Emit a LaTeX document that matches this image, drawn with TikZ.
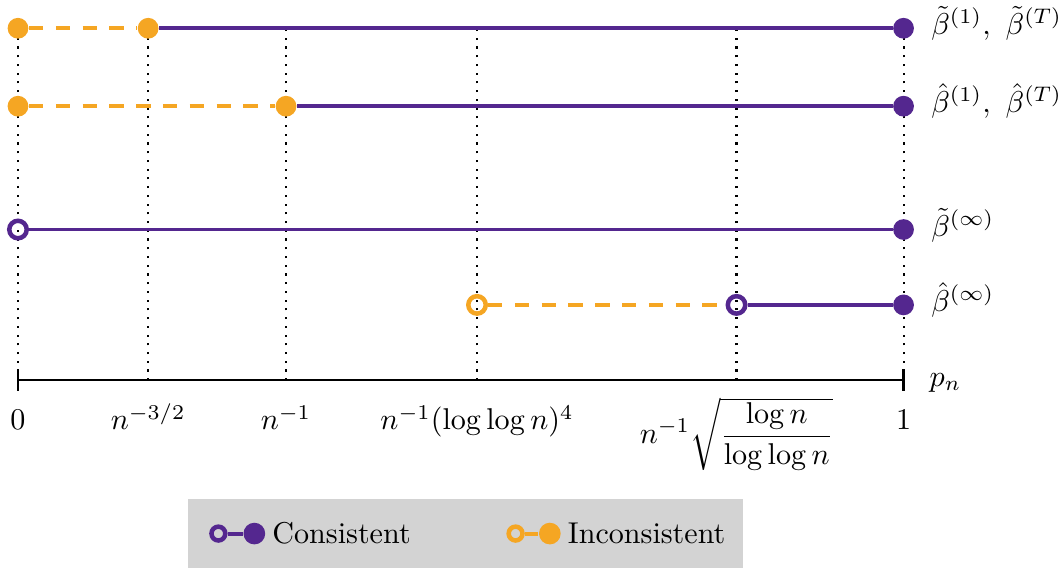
\documentclass[tikz,border=0pt]{standalone}
\usepackage{amsmath,amssymb}
\usepackage{xcolor}
\usepackage{tikz}
\usetikzlibrary{positioning}
\definecolor{cons}{RGB}{84,39,143}
\definecolor{incons}{RGB}{245,166,35}
\definecolor{legbg}{RGB}{211,211,211}

\begin{document}
\begin{tikzpicture}[
  fulldot/.style={circle,fill=#1,inner sep=0pt,minimum size=6.9pt},
  opendot/.style={circle,draw=#1,line width=1.5pt,inner sep=0pt,minimum size=5.8pt},
  consline/.style={cons,line width=1.3pt},
  inconsline/.style={incons,line width=1.3pt,dash pattern=on 4.8pt off 4.1pt},
  guide/.style={line width=0.7pt,dash pattern=on 0.7pt off 2.2pt},
  ticklab/.style={anchor=base},
  rowlab/.style={anchor=base west}]
  \useasboundingbox (-0.21,-2.20) rectangle (12.19,4.44);
  % axis positions
  \coordinate (top) at (0,4.11);
  \coordinate (t0) at (0,0);
  \coordinate (t1) at (1.52,0);
  \coordinate (t2) at (3.13,0);
  \coordinate (t3) at (5.36,0);
  \coordinate (t4) at (8.39,0);
  \coordinate (t5) at (10.34,0);
  \foreach \t in {t0,t1,t2,t3,t4,t5}
    \draw[guide] (\t) -- (\t |- top);
  \draw[line width=0.8pt] (t0) -- (t5);
  \draw[line width=0.8pt] ([yshift=3.7pt]t0) -- ([yshift=-3.7pt]t0);
  \draw[line width=0.8pt] ([yshift=3.7pt]t5) -- ([yshift=-3.7pt]t5);
  \node[ticklab] (l0) at (0,-0.57) {$0$};
  \node[ticklab] (l1) at (1.52,-0.58) {$n^{-3/2}$};
  \node[ticklab] (l2) at (3.13,-0.58) {$n^{-1}$};
  \node[ticklab] (l3) at (5.36,-0.58) {$n^{-1}(\log\log n)^4$};
  \node[ticklab] (l4) at (8.39,-0.74) {$n^{-1}\sqrt{\dfrac{\log n}{\log\log n}}$};
  \node[ticklab] (l5) at (10.34,-0.57) {$1$};
  \node[anchor=base west] (pn) at (10.52,-0.07) {$p_n$};
  % row 1
  \node[fulldot=incons] (a0) at (0,4.11) {};
  \node[fulldot=incons] (a1) at (1.52,4.11) {};
  \node[fulldot=cons] (a2) at (10.34,4.11) {};
  \draw[inconsline] (a0) -- (a1);
  \draw[consline] (a1) -- (a2);
  \node[rowlab] (la) at (10.54,4.035) {$\tilde{\beta}^{(1)},\ \tilde{\beta}^{(T)}$};
  % row 2
  \node[fulldot=incons] (b0) at (0,3.20) {};
  \node[fulldot=incons] (b1) at (3.13,3.20) {};
  \node[fulldot=cons] (b2) at (10.34,3.20) {};
  \draw[inconsline] (b0) -- (b1);
  \draw[consline] (b1) -- (b2);
  \node[rowlab] (lb) at (10.54,3.125) {$\hat{\beta}^{(1)},\ \hat{\beta}^{(T)}$};
  % row 3
  \node[opendot=cons] (c0) at (0,1.76) {};
  \node[fulldot=cons] (c1) at (10.34,1.76) {};
  \draw[consline] (c0) -- (c1);
  \node[rowlab] (lc) at (10.54,1.68) {$\tilde{\beta}^{(\infty)}$};
  % row 4
  \node[opendot=incons] (d0) at (5.36,0.88) {};
  \node[opendot=cons] (d1) at (8.39,0.88) {};
  \node[fulldot=cons] (d2) at (10.34,0.88) {};
  \draw[inconsline] (d0) -- (d1);
  \draw[consline] (d1) -- (d2);
  \node[rowlab] (ld) at (10.54,0.80) {$\hat{\beta}^{(\infty)}$};
  % legend
  \node[fill=legbg,minimum width=6.48cm,minimum height=0.81cm,inner sep=0pt] (leg) at (5.23,-1.79) {};
  \node[opendot=cons,minimum size=4.6pt] (k0) at (2.34,-1.79) {};
  \node[fulldot=cons,minimum size=7.2pt] (k1) at (2.76,-1.79) {};
  \draw[consline] (k0) -- (k1);
  \node[anchor=west,inner sep=2pt] (kt0) at (k1.east) {Consistent};
  \node[opendot=incons,minimum size=4.6pt] (k2) at (5.81,-1.79) {};
  \node[fulldot=incons,minimum size=7.2pt] (k3) at (6.21,-1.79) {};
  \draw[incons,line width=1.3pt] (k2) -- (k3);
  \node[anchor=west,inner sep=2pt] (kt1) at (k3.east) {Inconsistent};
\end{tikzpicture}
\end{document}
